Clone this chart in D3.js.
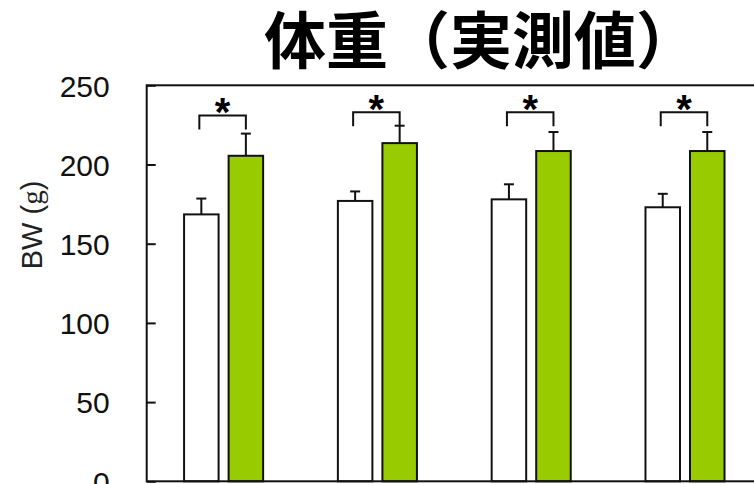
<!DOCTYPE html>
<html><head><meta charset="utf-8">
<script src="https://cdn.jsdelivr.net/npm/d3@7"></script>
<style>
html,body{margin:0;padding:0;background:#fff;overflow:hidden;}
svg{display:block;}
</style></head>
<body>
<svg id="chart" width="754" height="484"></svg>
<script>
// ---- data ----
const categories = ["1", "2", "3", "4"];
const seriesNames = ["control", "treated"];
const controlValues = [168.5, 177, 178, 173];
const controlSD = [10, 6, 9.5, 8.5];
const treatedValues = [205.5, 213.5, 208.5, 208.5];
const treatedSD = [14, 11, 12, 12];
const sigLevels = [231, 233, 233, 233];
const sigMarks = ["*", "*", "*", "*"];
const yTicks = [0, 50, 100, 150, 200, 250];
const titleText = "体重（実測値）";

// ---- layout ----
const svg = d3.select("#chart");
const plotLeft = 146.7, plotRight = 761.9, plotTop = 85.3, plotBottom = 481.3;
const green = "#99cc00";

const y = d3.scaleLinear().domain([0, 250]).range([plotBottom, plotTop]);
const x0 = d3.scaleBand().domain(categories).range([plotLeft, plotRight])
  .paddingInner(0.486).paddingOuter(0.243);
const x1 = d3.scaleBand().domain(seriesNames).range([0, x0.bandwidth()])
  .paddingInner(0.225);

const rows = categories.map((c, i) => ({
  cat: c,
  bars: [
    {s: "control", v: controlValues[i], sd: controlSD[i], fill: "#ffffff"},
    {s: "treated", v: treatedValues[i], sd: treatedSD[i], fill: green}
  ],
  sig: sigLevels[i], mark: sigMarks[i]
}));

// title
svg.append("text")
  .attr("x", 264).attr("y", 64)
  .attr("font-family", "'Noto Sans CJK JP', sans-serif")
  .attr("font-weight", "bold")
  .attr("font-size", 62)
  .attr("fill", "#000")
  .text(titleText);

// y axis
const yAxis = d3.axisLeft(y).tickValues(yTicks).tickSizeInner(-9).tickSizeOuter(0).tickPadding(37);
const gy = svg.append("g").attr("transform", `translate(${plotLeft},0)`).call(yAxis);
gy.select(".domain").remove();
gy.selectAll(".tick line").attr("stroke", "#111").attr("stroke-width", 2);
gy.selectAll(".tick text")
  .attr("font-family", "'Liberation Sans', Arial, sans-serif")
  .attr("font-size", 30).attr("fill", "#111").attr("dy", "0.36em");

// y label
const yl = svg.append("text")
  .attr("transform", "translate(42,225) rotate(-90)")
  .attr("text-anchor", "middle")
  .attr("font-family", "'Liberation Sans', Arial, sans-serif")
  .attr("font-size", 29).attr("fill", "#222");
yl.append("tspan").text("BW ");
yl.append("tspan").text("(");
yl.append("tspan").attr("font-family", "'Liberation Serif', serif").text("g");
yl.append("tspan").text(")");

// bars
const g = svg.append("g");
const grp = g.selectAll("g.grp").data(rows).join("g")
  .attr("class", "grp")
  .attr("transform", d => `translate(${x0(d.cat)},0)`);

// error bars (behind bars)
grp.selectAll("g.err").data(d => d.bars).join("g").attr("class", "err")
  .each(function(b) {
    const cx = x1(b.s) + x1.bandwidth() / 2;
    const gg = d3.select(this);
    gg.append("line").attr("x1", cx).attr("x2", cx)
      .attr("y1", y(b.v)).attr("y2", y(b.v + b.sd))
      .attr("stroke", "#111").attr("stroke-width", 2);
    gg.append("line").attr("x1", cx - 5).attr("x2", cx + 5)
      .attr("y1", y(b.v + b.sd)).attr("y2", y(b.v + b.sd))
      .attr("stroke", "#111").attr("stroke-width", 2);
  });

grp.selectAll("rect").data(d => d.bars).join("rect")
  .attr("x", b => x1(b.s))
  .attr("y", b => y(b.v))
  .attr("width", x1.bandwidth())
  .attr("height", b => y(0) - y(b.v))
  .attr("fill", b => b.fill)
  .attr("stroke", "#111").attr("stroke-width", 2);

// significance brackets
grp.each(function(d) {
  const gg = d3.select(this);
  const xa = x1("control") + x1.bandwidth() / 2 - 2;
  const xb = x1("treated") + x1.bandwidth() / 2;
  const yt = y(d.sig);
  gg.append("path")
    .attr("d", `M${xa},${yt + 14}V${yt}H${xb}V${yt + 14}`)
    .attr("fill", "none").attr("stroke", "#111").attr("stroke-width", 2);
  gg.append("text")
    .attr("x", (xa + xb) / 2).attr("y", yt + 11)
    .attr("text-anchor", "middle")
    .attr("font-family", "'Liberation Sans', Arial, sans-serif")
    .attr("font-weight", "bold").attr("font-size", 40).attr("fill", "#000")
    .text(d.mark);
});

// frame
svg.append("rect")
  .attr("x", plotLeft).attr("y", plotTop)
  .attr("width", plotRight - plotLeft).attr("height", plotBottom - plotTop)
  .attr("fill", "none").attr("stroke", "#111").attr("stroke-width", 2);
</script>
</body></html>
